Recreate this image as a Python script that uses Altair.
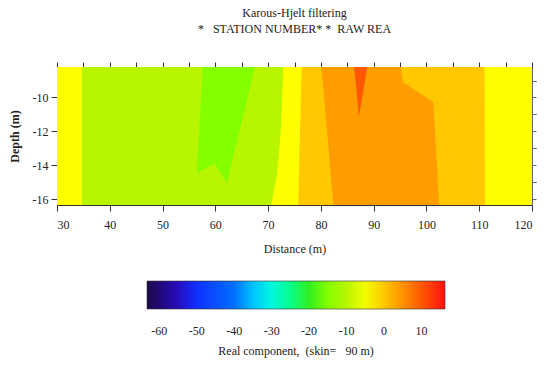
import altair as alt
import pandas as pd

# ---- data ----
TOP, BOT = -8.2, -16.35

# each piece: depths, left edge (m), right edge (m)
yellow_depth = [TOP, BOT];                 yellow_left = [30, 30];                 yellow_right = [120, 120]
ygreen_depth = [TOP, -12, -14.5, BOT];     ygreen_left = [34.7, 34.7, 34.7, 34.7]; ygreen_right = [72.9, 72.4, 71.7, 70.6]
lorange_depth = [TOP, BOT];                lorange_left = [76.35, 75.7];           lorange_right = [111.0, 111.1]
orange_depth = [TOP, -9.08, -10.26, BOT];  orange_left = [80.1, 80.35, 80.7, 82.35]; orange_right = [95.1, 95.5, 101.3, 102.4]
green_depth = [TOP, -13.9];                green_left = [57.6, 56.6];              green_right = [67.5, 63.1]
greenL_depth = [-13.9, -14.48];            greenL_left = [56.6, 56.5];             greenL_right = [59.85, 56.5]
greenR_depth = [-13.9, -15.07];            greenR_left = [59.85, 62.2];            greenR_right = [63.1, 62.2]
red_depth = [TOP, -11.14];                 red_left = [86.3, 87.2];                red_right = [88.8, 87.2]

pieces = [
    ("yellow", 0, -4, yellow_depth, yellow_left, yellow_right),
    ("ygreen", 1, -10, ygreen_depth, ygreen_left, ygreen_right),
    ("lorange", 1, 0, lorange_depth, lorange_left, lorange_right),
    ("orange", 2, 4, orange_depth, orange_left, orange_right),
    ("green", 2, -15, green_depth, green_left, green_right),
    ("greenL", 2, -15, greenL_depth, greenL_left, greenL_right),
    ("greenR", 2, -15, greenR_depth, greenR_left, greenR_right),
    ("red", 3, 10, red_depth, red_left, red_right),
]

# colour bar stops
cbar_domain = [-63.3, -56, -50, -40, -32, -26, -20, -15, -10, -4, 0, 4, 10, 16.3]
cbar_colors = ["#1c0a48", "#2a06b0", "#1030ff", "#0070ff", "#00f4ff", "#00ffa0",
               "#30f020", "#84ff00", "#b8f500", "#ffff00", "#ffc800", "#ff9c00",
               "#ff5800", "#ff1010"]
cbar_labels = [-60, -50, -40, -30, -20, -10, 0, 10]

x_major = [30, 40, 50, 60, 70, 80, 90, 100, 110, 120]
x_minor = [35, 45, 55, 65, 75, 85, 95, 105, 115]
x_top = [30, 35, 40, 45, 50, 55, 60, 65, 70, 75, 80, 85, 90, 95, 100, 105, 110, 115, 120]
y_major = [-10, -12, -14, -16]
y_minor = [-9, -11, -13, -15]
y_right = [-9, -10, -11, -12, -13, -14, -15, -16]

rows = []
for name, lvl, val, ds, ls, rs in pieces:
    for d, l, r in zip(ds, ls, rs):
        rows.append({"piece": name, "level": lvl, "value": val, "depth": d, "left": l, "right": r})
df = pd.DataFrame(rows)

FONT = "Liberation Serif"
HYPHEN = "'' + datum.value"
xscale = alt.Scale(domain=[30, 120], nice=False, zero=False)
yscale = alt.Scale(domain=[BOT, TOP], nice=False, zero=False)
cscale = alt.Scale(domain=cbar_domain, range=cbar_colors, interpolate="rgb")

legend = alt.Legend(
    orient="none", legendX=90, legendY=214, direction="horizontal",
    gradientLength=298, gradientThickness=28, values=cbar_labels,
    title="Real component,\u00a0 (skin=\u00a0\u00a0 90 m)", titleOrient="bottom",
    titleAnchor="middle", titleFont=FONT, titleFontSize=12, titleFontWeight="normal",
    titleColor="#222", titlePadding=9, labelFont=FONT, labelFontSize=12,
    labelColor="#222", labelOffset=17, labelOverlap=False, labelExpr=HYPHEN,
    gradientStrokeColor="#333", gradientStrokeWidth=0.6, padding=0,
)

common_axis = dict(domainColor="#333", tickColor="#333", labelColor="#222",
                   labelFont=FONT, labelFontSize=12, grid=False)

def layer(level, xaxis, yaxis):
    return alt.Chart(df).transform_filter(alt.datum.level == level).mark_area(
        orient="horizontal", opacity=1
    ).encode(
        y=alt.Y("depth:Q", scale=yscale, axis=yaxis),
        x=alt.X("left:Q", scale=xscale, axis=xaxis),
        x2="right:Q",
        detail="piece:N",
        color=alt.Color("value:Q", scale=cscale, legend=legend),
    )

ax_x_major = alt.Axis(values=x_major, tickSize=6, title="Distance (m)", titleFont=FONT,
                      titleFontSize=12, titleFontWeight="normal", titleColor="#222",
                      titleY=38, labelPadding=8, labelExpr=HYPHEN, **common_axis)
ax_y_major = alt.Axis(values=y_major, tickSize=6, title="Depth (m)", titleFont=FONT,
                      titleFontSize=12, titleFontWeight="bold", titleColor="#222",
                      titleX=-36, labelPadding=3, labelExpr=HYPHEN, **common_axis)
ax_x_minor = alt.Axis(values=x_minor, tickSize=4, labels=False, title=None, **common_axis)
ax_y_minor = alt.Axis(values=y_minor, tickSize=4, labels=False, title=None, **common_axis)
ax_x_top = alt.Axis(values=x_top, tickSize=5, labels=False, title=None, orient="top", **common_axis)
ax_y_right = alt.Axis(values=y_right, tickSize=4, labels=False, title=None, orient="right",
                      domainColor="#667", tickColor="#667", grid=False)

chart = alt.layer(
    layer(0, ax_x_major, ax_y_major),
    layer(1, ax_x_minor, ax_y_minor),
    layer(2, ax_x_top, ax_y_right),
    layer(3, None, None),
).resolve_axis(x="independent", y="independent").properties(
    width=475, height=138,
    autosize=alt.AutoSizeParams(type="none"),
    padding={"left": 57, "top": 67, "right": 13, "bottom": 161},
    title=alt.TitleParams(
        text=["Karous-Hjelt filtering", "*\u00a0\u00a0 STATION NUMBER* *\u00a0 RAW REA"],
        font=FONT, fontSize=12, fontWeight="normal", color="#222",
        anchor="middle", offset=26, lineHeight=16,
    ),
).configure_view(stroke=None).configure(background="white")

chart.save("out.html", embed_options={"renderer": "svg", "actions": False})
